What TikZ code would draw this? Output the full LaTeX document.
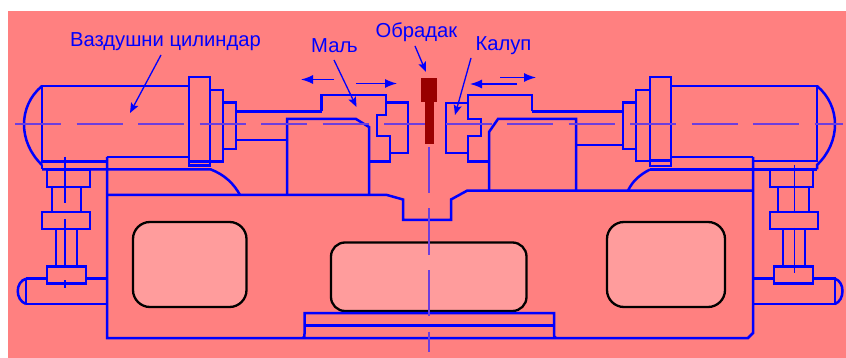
\documentclass[tikz,border=0pt]{standalone}
\usepackage{fontspec}
\setmainfont{Liberation Sans}
\usetikzlibrary{arrows.meta}
\definecolor{bgpink}{HTML}{FF8080}
\definecolor{winpink}{HTML}{FF9C9C}
\definecolor{ctr}{HTML}{6C3EDD}
\definecolor{work}{HTML}{990000}
\tikzset{
  x=1pt,y=-1pt,
  part/.style={draw=blue,line width=2.5pt,line join=miter},
  thinpart/.style={draw=blue,line width=1.4pt},
  windowbox/.style={draw=black,line width=2.3pt,fill=winpink},
  centre/.style={draw=ctr,line width=1.4pt,dash pattern=on 46pt off 15.5pt},
  pointer/.style={draw=blue,line width=1.3pt,-{Stealth[length=10pt,width=8pt,inset=2pt]}},
  move/.style={draw=blue,line width=1.3pt,-{Latex[length=12pt,width=9pt]}},
  lbl/.style={text=blue,font=\fontsize{20.2}{24}\selectfont,inner sep=0pt,anchor=center}
}
\begin{document}
\begin{tikzpicture}
\useasboundingbox (0,0) rectangle (846,358);
\fill[bgpink] (8,11) rectangle (846,358);
% windows
\draw[windowbox,rounded corners=17pt] (133,222) rectangle (246.5,307);
\draw[windowbox,rounded corners=14pt] (331,242.5) rectangle (526.5,311);
\draw[windowbox,rounded corners=17pt] (607,222) rectangle (725,307);
% left cylinder
\draw[part] (107,161.5) -- (42,161.5) -- (42,86) -- (190,86);
\draw[part] (42,86) .. controls (18,106) and (18,142) .. (42,165);
\draw[part] (42,165) -- (42,169.5);
\draw[part] (189,77) rectangle (210,165.5);
\draw[part] (189,161.5) -- (210,161.5);
\draw[part] (210,90) rectangle (223,161.5);
\draw[part] (223,102.5) rectangle (236,149);
\draw[part] (236,111.5) -- (321.5,111.5);
\draw[part] (236,140) -- (287,140);
\draw[part] (107,157) -- (189,157);
% right cylinder
\draw[part] (671,86) -- (817,86) -- (817,161) -- (753,161);
\draw[part] (817,86) .. controls (841,106) and (841,142) .. (817,165) -- (817,169.5);
\draw[part] (671,157) -- (753,157);
\draw[part] (650,77) rectangle (671,166);
\draw[part] (650,160.5) -- (671,160.5);
\draw[part] (636,90) rectangle (650,161);
\draw[part] (623,102.5) rectangle (636,149);
\draw[part] (532,111.5) -- (623,111.5);
\draw[part] (576,145) -- (623,145);
% cross beam and frame
\draw[part] (42,169.5) -- (211,169.5) .. controls (225,175) and (234,184) .. (240,195);
\draw[part] (650,169.5) -- (817,169.5);
\draw[part] (650,169.5) .. controls (639,175) and (632,182) .. (628,190.7);
\draw[part] (107,157) -- (107,338) -- (748,338) -- (753,333) -- (753,157);
\draw[part] (107,195) -- (387,195) -- (403,199.5) -- (403,220) -- (451,220) -- (451,199.5) -- (467,190.7) -- (753,190.7);
% slides, left
\draw[part] (321.5,111.5) -- (321.5,95) -- (386,95) -- (386,115) -- (377,115) -- (377,136) -- (390,136) -- (390,161.5) -- (369,161.5);
\draw[part] (386,102.5) -- (408,102.5) -- (408,153) -- (390,153);
\draw[part] (287,195) -- (287,119) -- (356,119) -- (369,127) -- (369,195);
% slides, right
\draw[part] (532,111.5) -- (532,95) -- (468,95) -- (468,119) -- (481,119) -- (481,136) -- (468,136) -- (468,161.5) -- (489,161.5);
\draw[part] (468,103) -- (446,103) -- (446,153) -- (468,153);
\draw[part] (576,190.7) -- (576,119) -- (498,119) -- (489,132) -- (489,190.7);
% left support
\draw[part] (47,169.5) rectangle (90,187);
\draw[part] (52,187) rectangle (81,212);
\draw[part] (42,212) rectangle (90,229);
\draw[part] (56,229) rectangle (77,266.7);
\draw[part] (26,278.7) -- (47,278.7);
\draw[part] (86,278.7) -- (107,278.7);
\draw[part] (26,304) -- (107,304);
\draw[part] (26,278.7) -- (26,304);
\draw[part] (26,278.7) .. controls (15,282) and (15,300) .. (26,304);
\draw[part] (47,266.7) rectangle (86,283.5);
% right support
\draw[part] (770,169.5) rectangle (813,187);
\draw[part] (778,187) rectangle (809,212);
\draw[part] (770,212) rectangle (818,229);
\draw[part] (783,229) rectangle (805,266.7);
\draw[part] (753,278.7) -- (774,278.7);
\draw[part] (813,278.7) -- (835,278.7) -- (835,304) -- (753,304);
\draw[part] (835,278.7) .. controls (845,282) and (845,300) .. (835,304);
\draw[part] (774,266.7) rectangle (813,283.5);
% bottom plate
\draw[part] (303,338) .. controls (304.5,337) and (304.5,336) .. (304.5,334) -- (304.5,313) -- (554,313) -- (554,334) .. controls (554,336) and (554,337) .. (556,338);
\draw[part] (304.5,325.7) -- (554,325.7);
% centre lines
\draw[centre] (15,124) -- (843,124);
\draw[centre] (429,147) -- (429,352);
\draw[thinpart] (65,157) -- (65,203) (65,219) -- (65,265) (65,280) -- (65,288);
\draw[thinpart] (794.5,165) -- (794.5,212) (794.5,228) -- (794.5,273);
% workpiece
\fill[work] (421,78) rectangle (437,102);
\fill[work] (425,102) rectangle (433.5,144);
% labels
\node[lbl] (cyl) at (165.5,42) {Ваздушни цилиндар};
\node[lbl] (malj) at (334.5,46) {Маљ};
\node[lbl] (obr) at (416.5,32) {Обрадак};
\node[lbl] (kal) at (503.5,46) {Калуп};
% pointers
\coordinate (cylT) at (130,113);
\coordinate (maljT) at (356.5,107);
\coordinate (obrT) at (426,72);
\coordinate (kalT) at (455,115);
\draw[pointer] (161,55) -- (cylT);
\draw[pointer] (334,60) -- (maljT);
\draw[pointer] (415,46) -- (obrT);
\draw[pointer] (471,58) -- (kalT);
\coordinate (la) at (334,79.5); \coordinate (lb) at (301,79.5);
\coordinate (lc) at (356,83.5); \coordinate (ld) at (397,83.5);
\coordinate (ra) at (517,84); \coordinate (rb) at (470,84);
\coordinate (rc) at (500,77.5); \coordinate (rd) at (536,77.5);
\draw[move] (la) -- (lb);
\draw[move] (lc) -- (ld);
\draw[move] (ra) -- (rb);
\draw[move] (rc) -- (rd);
\end{tikzpicture}
\end{document}
